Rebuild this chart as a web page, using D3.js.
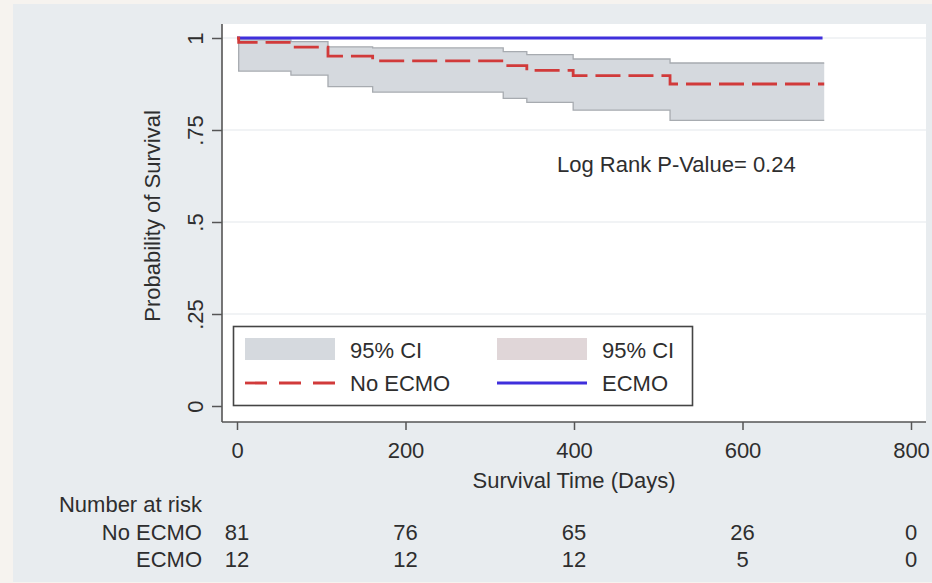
<!DOCTYPE html>
<html>
<head>
<meta charset="utf-8">
<script src="https://cdn.jsdelivr.net/npm/d3@7"></script>
<style>
  body { margin: 0; background: #f6f3ef; }
  svg { display: block; font-family: "Liberation Sans", Arial, sans-serif; }
  text { fill: #2e2e2e; }
</style>
</head>
<body>
<svg width="932" height="583"></svg>
<script>
// Kaplan-Meier steps (days, survival)
var noEcmoTime  = [0, 2, 64, 108, 161, 316, 344, 399, 514, 697];
var noEcmoSurv  = [1, 0.988, 0.975, 0.951, 0.938, 0.925, 0.912, 0.898, 0.875, 0.875];
var noEcmoUpper = [1, 0.995, 0.99, 0.976, 0.973, 0.963, 0.955, 0.943, 0.932, 0.932];
var noEcmoLower = [1, 0.91, 0.899, 0.868, 0.853, 0.836, 0.825, 0.804, 0.776, 0.776];

var ecmoTime = [0, 695];
var ecmoSurv = [1, 1];

var xTicks = [0, 200, 400, 600, 800];
var yTicks = [0, 0.25, 0.5, 0.75, 1];

var riskLabels = ["No ECMO", "ECMO"];
var riskNoEcmo = [81, 76, 65, 26, 0];
var riskEcmo   = [12, 12, 12, 5, 0];

var pValueText = "Log Rank P-Value= 0.24";

var svg = d3.select("svg");

// graph region
svg.append("rect").attr("x", 13).attr("y", 4).attr("width", 919).attr("height", 578).attr("fill", "#e8ecef");
// plot region
svg.append("rect").attr("x", 222).attr("y", 24).attr("width", 704).attr("height", 398).attr("fill", "#ffffff");

var xScale = d3.scaleLinear().domain([0, 800]).range([237, 911]);
var yScale = d3.scaleLinear().domain([0, 1]).range([406, 38]);

// grid
svg.append("g").selectAll("line").data(yTicks.filter(function (d) { return d > 0; })).enter().append("line")
    .attr("x1", 222).attr("x2", 926)
    .attr("y1", function (d) { return yScale(d); }).attr("y2", function (d) { return yScale(d); })
    .attr("stroke", "#eceff2").attr("stroke-width", 1.5);

// CI band for No ECMO
var band = noEcmoTime.map(function (t, i) { return {t: t, hi: noEcmoUpper[i], lo: noEcmoLower[i]}; });
var bandArea = d3.area().curve(d3.curveStepAfter)
    .x(function (d) { return xScale(d.t); })
    .y0(function (d) { return yScale(d.lo); })
    .y1(function (d) { return yScale(d.hi); });
svg.append("path").attr("d", bandArea(band)).attr("fill", "#d5d9de").attr("stroke", "none");

var edge = d3.line().curve(d3.curveStepAfter).x(function (d) { return xScale(d.t); });
svg.append("path").attr("d", edge.y(function (d) { return yScale(d.hi); })(band))
    .attr("fill", "none").attr("stroke", "#a7abb0").attr("stroke-width", 1.3);
svg.append("path").attr("d", edge.y(function (d) { return yScale(d.lo); })(band))
    .attr("fill", "none").attr("stroke", "#a7abb0").attr("stroke-width", 1.3);

// survival curves
var km = d3.line().curve(d3.curveStepAfter)
    .x(function (d) { return xScale(d[0]); })
    .y(function (d) { return yScale(d[1]); });

svg.append("path").attr("d", km(d3.zip(ecmoTime, ecmoSurv)))
    .attr("fill", "none").attr("stroke", "#3f2fdc").attr("stroke-width", 3);

svg.append("path").attr("d", km(d3.zip(noEcmoTime, noEcmoSurv)))
    .attr("fill", "none").attr("stroke", "#d13a3a").attr("stroke-width", 2.8)
    .attr("stroke-dasharray", "25 8");

// axes
var axisColor = "#555555";
var yAxis = d3.axisLeft(yScale).tickValues(yTicks).tickSize(10)
    .tickFormat(function (d) { return (d === 0 || d === 1) ? String(d) : String(d).replace(/^0/, ""); });
var yG = svg.append("g").attr("transform", "translate(222,0)").call(yAxis);
yG.select(".domain").remove();
yG.selectAll("line").attr("stroke", axisColor).attr("stroke-width", 1.5);
yG.selectAll("text").attr("x", null).attr("dy", null).attr("y", null)
    .attr("text-anchor", "middle").attr("transform", "translate(-19,0) rotate(-90)")
    .style("font-size", "22px").attr("fill", "#2e2e2e");

var xAxis = d3.axisBottom(xScale).tickValues(xTicks).tickSize(8);
var xG = svg.append("g").attr("transform", "translate(0,422)").call(xAxis);
xG.select(".domain").remove();
xG.selectAll("line").attr("stroke", axisColor).attr("stroke-width", 1.5);
xG.selectAll("text").attr("y", 36).attr("dy", null).style("font-size", "22px").attr("fill", "#2e2e2e");

svg.append("line").attr("x1", 222).attr("x2", 222).attr("y1", 24).attr("y2", 422)
    .attr("stroke", axisColor).attr("stroke-width", 1.6);
svg.append("line").attr("x1", 222).attr("x2", 926).attr("y1", 422).attr("y2", 422)
    .attr("stroke", axisColor).attr("stroke-width", 1.6);

// axis titles
svg.append("text").attr("transform", "translate(160,216) rotate(-90)")
    .attr("text-anchor", "middle").style("font-size", "22px").text("Probability of Survival");
svg.append("text").attr("x", 574).attr("y", 488)
    .attr("text-anchor", "middle").style("font-size", "22px").text("Survival Time (Days)");

// annotation
svg.append("text").attr("x", 557).attr("y", 172).style("font-size", "22px").text(pValueText);

// legend
var lg = svg.append("g");
lg.append("rect").attr("x", 233.5).attr("y", 326.5).attr("width", 459).attr("height", 79)
    .attr("fill", "#ffffff").attr("stroke", "#454545").attr("stroke-width", 1.6);
lg.append("rect").attr("x", 245).attr("y", 338).attr("width", 90).attr("height", 22).attr("fill", "#d5d9de");
lg.append("rect").attr("x", 497).attr("y", 338).attr("width", 90).attr("height", 22).attr("fill", "#e0d6d8");
lg.append("line").attr("x1", 245).attr("x2", 335).attr("y1", 383).attr("y2", 383)
    .attr("stroke", "#d13a3a").attr("stroke-width", 2.8).attr("stroke-dasharray", "22 12");
lg.append("line").attr("x1", 497).attr("x2", 587).attr("y1", 383).attr("y2", 383)
    .attr("stroke", "#3f2fdc").attr("stroke-width", 2.8);
var legendText = [[350, 358, "95% CI"], [602, 358, "95% CI"], [350, 391, "No ECMO"], [602, 391, "ECMO"]];
lg.selectAll("text.lab").data(legendText).enter().append("text").attr("class", "lab")
    .attr("x", function (d) { return d[0]; }).attr("y", function (d) { return d[1]; })
    .style("font-size", "22px").text(function (d) { return d[2]; });

// number at risk table
svg.append("text").attr("x", 202).attr("y", 512).attr("text-anchor", "end")
    .style("font-size", "22px").text("Number at risk");
var riskRows = [riskNoEcmo, riskEcmo];
var rowY = [540, 567];
riskRows.forEach(function (row, r) {
    svg.append("text").attr("x", 202).attr("y", rowY[r]).attr("text-anchor", "end")
        .style("font-size", "22px").text(riskLabels[r]);
    svg.append("g").selectAll("text").data(row).enter().append("text")
        .attr("x", function (d, i) { return xScale(xTicks[i]); }).attr("y", rowY[r])
        .attr("text-anchor", "middle").style("font-size", "22px").text(function (d) { return d; });
});
</script>
</body>
</html>
